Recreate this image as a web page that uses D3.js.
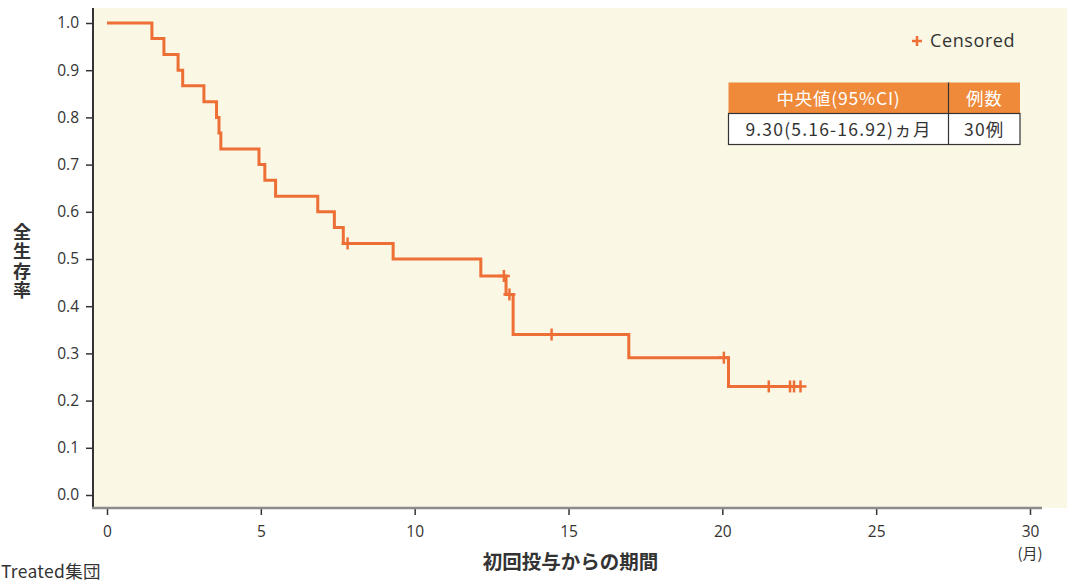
<!DOCTYPE html>
<html>
<head>
<meta charset="utf-8">
<script src="https://cdn.jsdelivr.net/npm/d3@7"></script>
<style>
  html, body { margin: 0; padding: 0; background: #ffffff; }
  svg { display: block; font-family: "Noto Sans CJK JP", "Noto Sans", sans-serif; }
</style>
</head>
<body>
<svg id="chart" width="1067" height="582"></svg>
<script>
// Kaplan–Meier overall survival, treated group (n = 30)
const stepTimes = [0, 1.46, 1.85, 2.31, 2.46, 3.15, 3.56, 3.64, 3.70, 4.94, 5.13, 5.48, 6.85, 7.39, 7.68, 9.30, 12.15, 12.97, 13.20, 16.96, 20.20];
const stepSurvival = [1.000, 0.967, 0.933, 0.900, 0.867, 0.833, 0.800, 0.767, 0.733, 0.700, 0.667, 0.633, 0.600, 0.567, 0.533, 0.500, 0.464, 0.425, 0.340, 0.291, 0.230];
const censorTimes = [7.82, 12.90, 13.08, 14.45, 20.05, 21.51, 22.20, 22.33, 22.54];
const lastFollowUp = 22.54;

const xTicks = [0, 5, 10, 15, 20, 25, 30];
const yTicks = [0, 0.1, 0.2, 0.3, 0.4, 0.5, 0.6, 0.7, 0.8, 0.9, 1.0];

const tableHeader = ["中央値(95%CI)", "例数"];
const tableRow = ["9.30(5.16-16.92)ヵ月", "30例"];

const curveColor = "#ee6f36";
const headerColor = "#ee8a3a";
const latinFont = "'Open Sans', 'Noto Sans', sans-serif";

const svg = d3.select("#chart");
const x = d3.scaleLinear().domain([0, 30]).range([107, 1030]);
const y = d3.scaleLinear().domain([0, 1]).range([495, 23]);

// plot panel
svg.append("rect")
  .attr("x", 94).attr("y", 8)
  .attr("width", 1067 - 94).attr("height", 508 - 8)
  .attr("fill", "#faf7e4");

// y axis
const yAxis = svg.append("g")
  .attr("transform", "translate(93,0)")
  .call(d3.axisLeft(y).tickValues(yTicks).tickFormat(d3.format(".1f")).tickSize(7).tickPadding(7));
yAxis.select(".domain").remove();
yAxis.selectAll(".tick line").attr("stroke", "#333").attr("stroke-width", 1.5);
yAxis.selectAll(".tick text").attr("fill", "#333").style("font-size", "15.5px")
  .style("font-family", latinFont);
svg.append("line").attr("x1", 93).attr("x2", 93).attr("y1", 8).attr("y2", 508)
  .attr("stroke", "#333").attr("stroke-width", 2);

// x axis
const xAxis = svg.append("g")
  .attr("transform", "translate(0,508)")
  .call(d3.axisBottom(x).tickValues(xTicks).tickFormat(d3.format("d")).tickSize(7).tickPadding(11));
xAxis.select(".domain").remove();
xAxis.selectAll(".tick line").attr("stroke", "#333").attr("stroke-width", 1.5);
xAxis.selectAll(".tick text").attr("fill", "#333").style("font-size", "15.5px")
  .style("font-family", latinFont);
svg.append("line").attr("x1", 92).attr("x2", 1042).attr("y1", 508).attr("y2", 508)
  .attr("stroke", "#8c8c8c").attr("stroke-width", 2.5);

// axis titles
svg.append("text").attr("x", x(15) + 2).attr("y", 569)
  .attr("text-anchor", "middle").attr("fill", "#333")
  .style("font-size", "19.5px").style("font-weight", "bold")
  .text("初回投与からの期間");
svg.append("text").attr("x", x(30)).attr("y", 559)
  .attr("text-anchor", "middle").attr("fill", "#333")
  .style("font-size", "15px")
  .text("(月)");
svg.append("text")
  .attr("transform", "translate(22,262)")
  .attr("text-anchor", "middle").attr("fill", "#333")
  .style("writing-mode", "vertical-rl").style("text-orientation", "upright")
  .style("font-size", "18px").style("font-weight", "bold").style("letter-spacing", "1.5px")
  .text("全生存率");
svg.append("text").attr("x", 1).attr("y", 578)
  .attr("fill", "#333").style("font-size", "17.5px").style("letter-spacing", "0.3px")
  .text("Treated集団");

// survival curve
const pts = stepTimes.map((t, i) => [t, stepSurvival[i]]);
pts.push([lastFollowUp, stepSurvival[stepSurvival.length - 1]]);
const line = d3.line().x(d => x(d[0])).y(d => y(d[1])).curve(d3.curveStepAfter);
svg.append("path").datum(pts)
  .attr("d", line)
  .attr("fill", "none").attr("stroke", curveColor).attr("stroke-width", 3);

// censor marks
const survAt = t => stepSurvival[d3.bisectRight(stepTimes, t) - 1];
const cg = svg.append("g").attr("stroke", curveColor).attr("stroke-width", 2.5);
censorTimes.forEach(t => {
  const cx = x(t), cy = y(survAt(t));
  cg.append("line").attr("x1", cx).attr("x2", cx).attr("y1", cy - 6).attr("y2", cy + 6);
  cg.append("line").attr("x1", cx - 6).attr("x2", cx + 6).attr("y1", cy).attr("y2", cy);
});

// legend
const lg = svg.append("g").attr("transform", "translate(917,41)");
lg.append("line").attr("x1", -5).attr("x2", 5).attr("y1", 0).attr("y2", 0).attr("stroke", curveColor).attr("stroke-width", 2.5);
lg.append("line").attr("x1", 0).attr("x2", 0).attr("y1", -5).attr("y2", 5).attr("stroke", curveColor).attr("stroke-width", 2.5);
lg.append("text").attr("x", 13).attr("y", 6).attr("fill", "#333")
  .style("font-size", "18px").style("letter-spacing", "0.6px").style("font-family", latinFont)
  .text("Censored");

// median survival table
const tL = 728.5, tM = 948.5, tR = 1020, tT = 82.5, tH = 113.5, tB = 144.5;
svg.append("rect").attr("x", tL).attr("y", tT).attr("width", tR - tL).attr("height", tH - tT).attr("fill", headerColor);
svg.append("rect").attr("x", tL).attr("y", tH).attr("width", tR - tL).attr("height", tB - tH)
  .attr("fill", "#fff").attr("stroke", "#333").attr("stroke-width", 1.2);
svg.append("line").attr("x1", tM).attr("x2", tM).attr("y1", tT).attr("y2", tB).attr("stroke", "#333").attr("stroke-width", 1.2);
const colCx = [(tL + tM) / 2, (tM + tR) / 2];
svg.append("g").selectAll("text").data(tableHeader).join("text")
  .attr("x", (d, i) => colCx[i]).attr("y", (tT + tH) / 2 + 6.5)
  .attr("text-anchor", "middle").attr("fill", "#fff")
  .style("font-size", "17.5px").style("letter-spacing", "0.8px")
  .text(d => d);
svg.append("g").selectAll("text").data(tableRow).join("text")
  .attr("x", (d, i) => colCx[i]).attr("y", (tH + tB) / 2 + 6.5)
  .attr("text-anchor", "middle").attr("fill", "#333")
  .style("font-size", "17.5px").style("letter-spacing", "1.2px")
  .text(d => d);
</script>
</body>
</html>
